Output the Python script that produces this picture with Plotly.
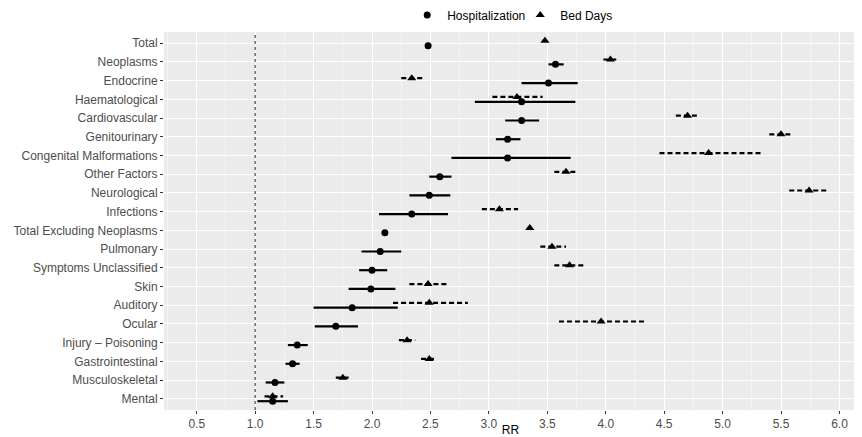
import plotly.graph_objects as go

categories = ["Total", "Neoplasms", "Endocrine", "Haematological", "Cardiovascular",
              "Genitourinary", "Congenital Malformations", "Other Factors", "Neurological",
              "Infections", "Total Excluding Neoplasms", "Pulmonary", "Symptoms Unclassified",
              "Skin", "Auditory", "Ocular", "Injury \u2013 Poisoning", "Gastrointestinal",
              "Musculoskeletal", "Mental"]

hosp_rr = [2.48, 3.57, 3.51, 3.28, 3.28, 3.16, 3.16, 2.58, 2.49, 2.34,
           2.11, 2.07, 2.00, 1.99, 1.83, 1.69, 1.36, 1.32, 1.17, 1.15]
hosp_lo = [2.46, 3.51, 3.28, 2.88, 3.14, 3.06, 2.68, 2.49, 2.32, 2.06,
           2.09, 1.91, 1.89, 1.80, 1.50, 1.51, 1.28, 1.26, 1.09, 1.02]
hosp_hi = [2.50, 3.64, 3.76, 3.74, 3.43, 3.27, 3.70, 2.68, 2.67, 2.65,
           2.13, 2.25, 2.13, 2.20, 2.22, 1.88, 1.45, 1.38, 1.25, 1.28]

bed_rr = [3.48, 4.04, 2.34, 3.24, 4.70, 5.50, 4.88, 3.66, 5.74, 3.09,
          3.35, 3.54, 3.69, 2.48, 2.49, 3.96, 2.30, 2.49, 1.75, 1.15]
bed_lo = [3.46, 3.98, 2.25, 3.03, 4.60, 5.40, 4.46, 3.56, 5.57, 2.94,
          3.33, 3.44, 3.56, 2.32, 2.18, 3.60, 2.23, 2.42, 1.69, 1.08]
bed_hi = [3.50, 4.09, 2.45, 3.46, 4.80, 5.60, 5.33, 3.76, 5.91, 3.25,
          3.37, 3.66, 3.81, 2.65, 2.82, 4.35, 2.37, 2.53, 1.80, 1.24]

x_ticks = [0.5, 1.0, 1.5, 2.0, 2.5, 3.0, 3.5, 4.0, 4.5, 5.0, 5.5, 6.0]

n = len(categories)
ypos = [n - i for i in range(n)]
dodge = 0.13
y_h = [y - dodge for y in ypos]
y_b = [y + dodge for y in ypos]


def seg(lo, hi, yy):
    xs, ys = [], []
    for a, b, c in zip(lo, hi, yy):
        xs += [a, b, None]
        ys += [c, c, None]
    return xs, ys


fig = go.Figure()

xs, ys = seg(hosp_lo, hosp_hi, y_h)
fig.add_trace(go.Scatter(x=xs, y=ys, mode="lines", line=dict(color="black", width=2.2),
                         showlegend=False, hoverinfo="skip"))
xs, ys = seg(bed_lo, bed_hi, y_b)
fig.add_trace(go.Scatter(x=xs, y=ys, mode="lines",
                         line=dict(color="black", width=2.2, dash="5px,3px"),
                         showlegend=False, hoverinfo="skip"))

fig.add_trace(go.Scatter(x=hosp_rr, y=y_h, mode="markers", name="Hospitalization",
                         marker=dict(symbol="circle", size=7, color="black")))
fig.add_trace(go.Scatter(x=bed_rr, y=y_b, mode="markers", name="Bed Days",
                         marker=dict(symbol="triangle-up", size=8, color="black")))

fig.add_shape(type="line", x0=1.0, x1=1.0, y0=0, y1=1, xref="x", yref="paper",
              line=dict(color="#555555", width=1.3, dash="dot"), layer="above")

fig.update_layout(
    width=854, height=429,
    margin=dict(l=156, r=5, t=24, b=27, autoexpand=False),
    paper_bgcolor="white",
    plot_bgcolor="#EBEBEB",
    font=dict(family="Liberation Sans, Arial, sans-serif", size=12, color="#4D4D4D"),
    showlegend=True,
    legend=dict(orientation="h", x=0.514, xanchor="center", y=1.045, yanchor="middle",
                bgcolor="rgba(0,0,0,0)", font=dict(size=12, color="black"),
                itemwidth=30, entrywidth=68, tracegroupgap=0),
    xaxis=dict(
        range=[0.22, 6.15], tickvals=x_ticks,
        ticktext=[f"{v:.1f}" for v in x_ticks],
        showgrid=True, gridcolor="white", gridwidth=1.1,
        minor=dict(dtick=0.25, tick0=0.25, showgrid=True, gridcolor="#F5F5F5", gridwidth=0.5),
        ticks="outside", ticklen=3, tickcolor="#333333", tickwidth=1,
        zeroline=False, showline=False,
        title=dict(text="RR", font=dict(size=12, color="black"), standoff=0),
        tickfont=dict(size=12, color="#4D4D4D"),
        automargin=False,
    ),
    yaxis=dict(
        range=[0.4, n + 0.6], tickvals=ypos, ticktext=categories,
        showgrid=True, gridcolor="white", gridwidth=1.1,
        ticks="outside", ticklen=3, tickcolor="#333333", tickwidth=1,
        zeroline=False, showline=False,
        tickfont=dict(size=12, color="#4D4D4D"),
        automargin=False,
    ),
)

fig.write_html("out.html")
